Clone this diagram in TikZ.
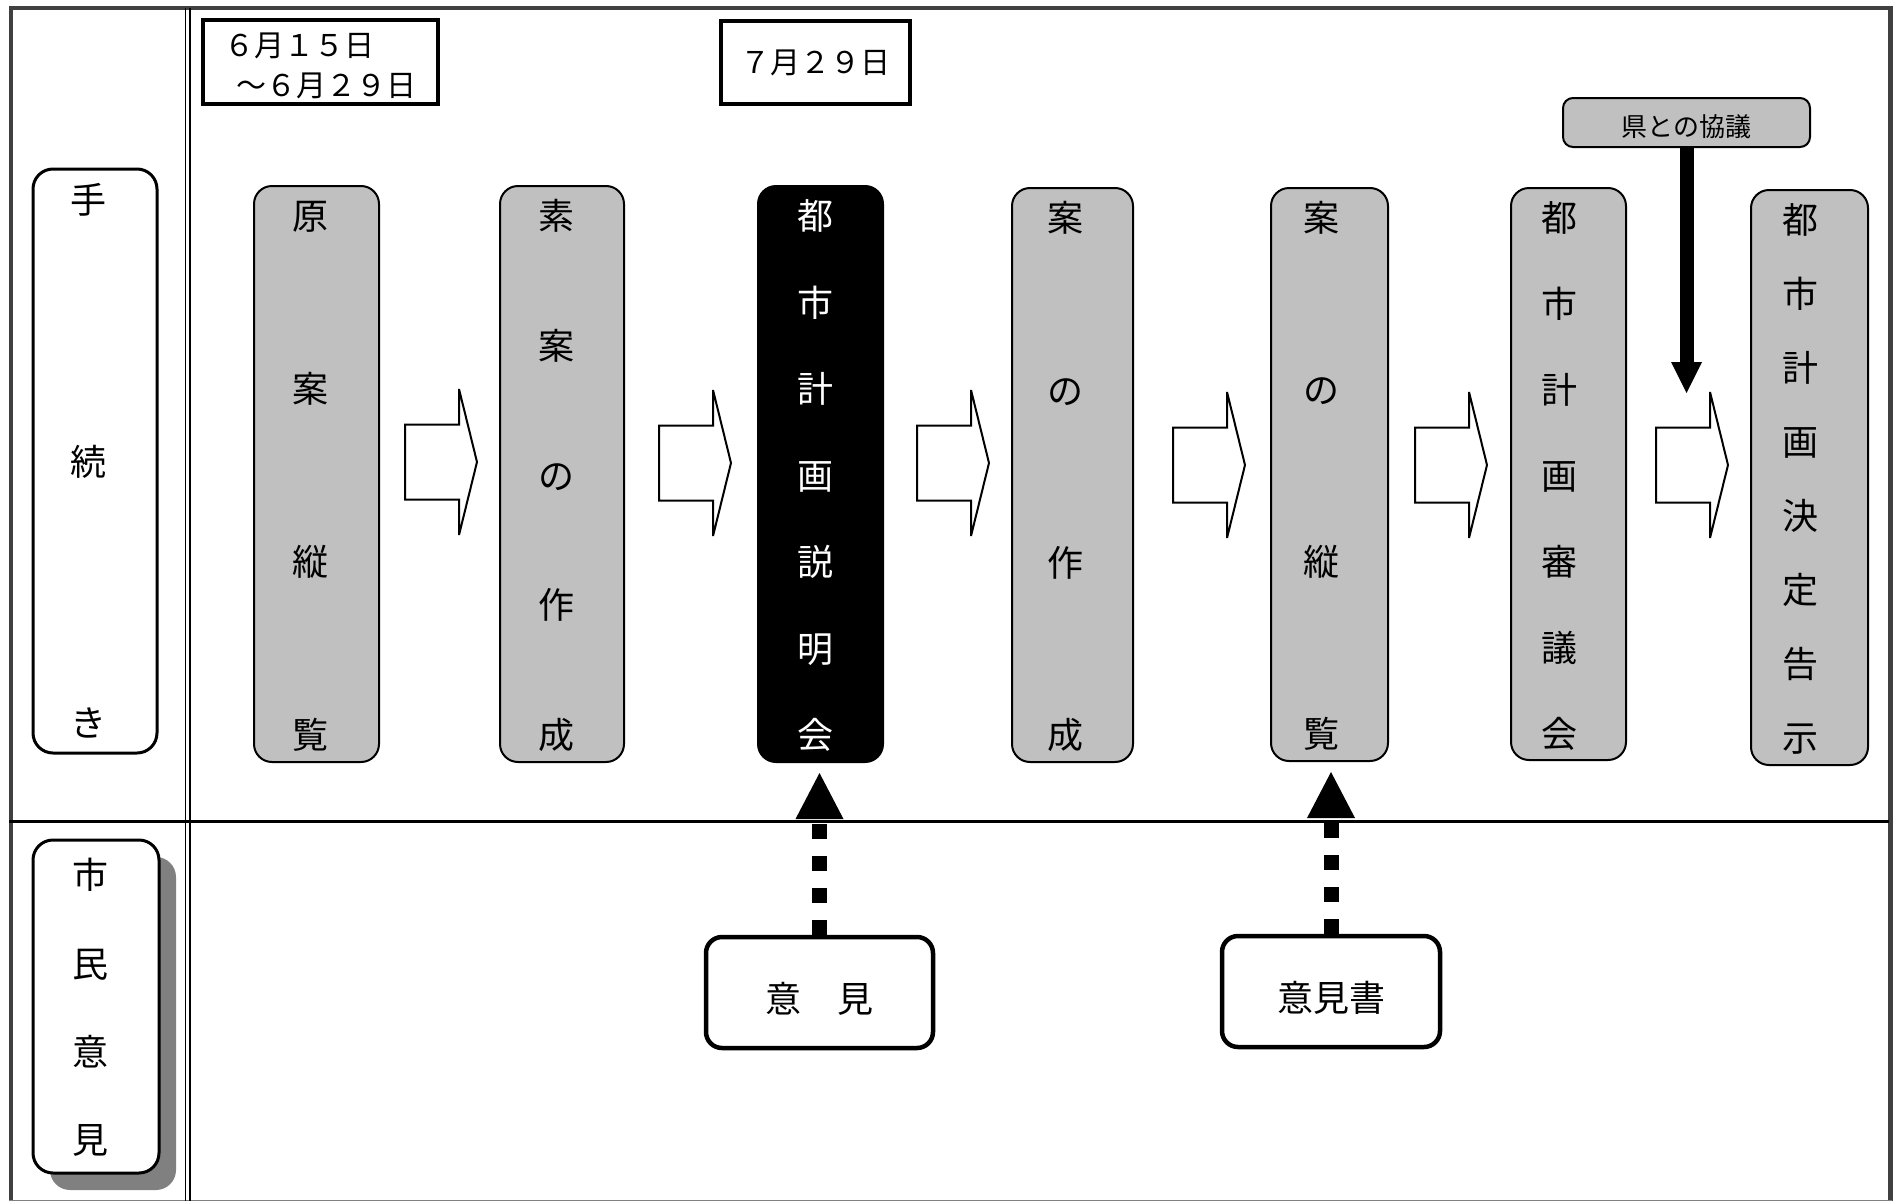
\documentclass[tikz,border=0pt]{standalone}
\usepackage{fontspec}
\setmainfont{Noto Sans CJK JP}
\usetikzlibrary{arrows.meta,shadows}
\definecolor{framegray}{RGB}{64,64,64}
\definecolor{boxgray}{RGB}{192,192,192}
\definecolor{shadowgray}{RGB}{128,128,128}
\newcommand\colchars[7][]{%
  \foreach \mych [count=\i] in {#7} {%
    \node[chr,#1] (#2-\i) at (#3,{#4+(\i-1)*(#5-#4)/(#6-1)}) {\mych};
  }%
}
\tikzset{
  procbox/.style={draw, line width=2pt, fill=boxgray, rounded corners=18pt, inner sep=0pt},
  blackbox/.style={procbox, fill=black},
  sidebox/.style={draw, line width=3pt, fill=white, rounded corners=20pt, inner sep=0pt},
  datebox/.style={draw, line width=4pt, fill=white, inner sep=0pt},
  kenbox/.style={draw, line width=2pt, fill=boxgray, rounded corners=10pt, inner sep=0pt,
    font=\fontsize{26pt}{26pt}\selectfont, text height=31.9pt, text depth=3.1pt},
  commentbox/.style={draw, line width=4.5pt, fill=white, rounded corners=16pt, inner sep=0pt,
    font=\fontsize{36pt}{36pt}\selectfont, text height=45pt, text depth=4.3pt},
  chr/.style={inner sep=0pt, font=\fontsize{36pt}{36pt}\selectfont, text height=31.7pt, text depth=4.3pt},
  datetext/.style={inner sep=0pt, font=\fontsize{30pt}{30pt}\selectfont, text height=26.4pt, text depth=3.6pt},
  fatdash/.style={line width=15pt, dash pattern=on 15pt off 17pt,
    -{Triangle[length=46pt,width=48pt,line width=0pt]}, shorten >=10pt},
  fatarrow/.style={line width=14pt, -{Triangle[length=31pt,width=31pt,line width=0pt]}},
  hollowarrow/.pic={\draw[line width=2pt, fill=white, miter limit=3] (0,-37.5) -- (54,-37.5) -- (54,-73) -- (72,0) -- (54,73) -- (54,37.5) -- (0,37.5) -- cycle;}
}
\begin{document}
\begin{tikzpicture}[x=1pt,y=-1pt]
\useasboundingbox (0,0) rectangle (1898,1202);
% frame
\draw[framegray, line width=4pt] (9,8) -- (1892,8);
\draw[framegray, line width=4pt] (10.5,6) -- (10.5,1201);
\draw[framegray, line width=4.5pt] (1890.5,6) -- (1890.5,1201);
\draw[gray, line width=1.5pt] (9,1200.5) -- (1892,1200.5);
\draw[line width=1.5pt] (185.5,8) -- (185.5,1201);
\draw[line width=1.5pt] (190,8) -- (190,1201);
\draw[line width=3pt] (9,821.5) -- (1889,821.5);
% side labels
\node[sidebox, minimum width=124pt, minimum height=584pt] (tz) at (95,461) {};
\colchars{tzc}{88}{200}{723}{3}{手,続,き}
\node[sidebox, minimum width=126pt, minimum height=333pt,
  drop shadow={shadow xshift=17pt, shadow yshift=-17pt, fill=shadowgray, opacity=1}] (sm) at (96,1006.5) {};
\colchars{smc}{90}{875}{1140}{4}{市,民,意,見}
% dates
\node[datebox, minimum width=235pt, minimum height=84pt] (d1) at (320.5,62) {};
\node[datetext, anchor=west] (d1a) at (224,45) {６月１５日};
\node[datetext, anchor=west] (d1b) at (236,85) {～６月２９日};
\node[datebox, datetext, minimum width=189pt, minimum height=83pt] (d2) at (815.5,62.5) {７月２９日};
% consultation
\node[kenbox, minimum width=247pt, minimum height=49pt] (ken) at (1686.5,122.5) {県との協議};
% process boxes
\node[procbox, minimum width=125pt, minimum height=576pt] (b1) at (316.5,474) {};
\colchars{b1c}{310}{216}{735}{4}{原,案,縦,覧}
\node[procbox, minimum width=124pt, minimum height=576pt] (b2) at (562,474) {};
\colchars{b2c}{556}{216}{735}{5}{素,案,の,作,成}
\node[blackbox, minimum width=125pt, minimum height=576pt] (b3) at (820.5,474) {};
\colchars[white]{b3c}{815}{216}{735}{7}{都,市,計,画,説,明,会}
\node[procbox, minimum width=121pt, minimum height=574pt] (b4) at (1072.5,475) {};
\colchars{b4c}{1065}{218}{735}{4}{案,の,作,成}
\node[procbox, minimum width=117pt, minimum height=573pt] (b5) at (1329.5,474.5) {};
\colchars{b5c}{1321}{218}{734}{4}{案,の,縦,覧}
\node[procbox, minimum width=115pt, minimum height=572pt] (b6) at (1568.5,474) {};
\colchars{b6c}{1559}{218}{734}{7}{都,市,計,画,審,議,会}
\node[procbox, minimum width=117pt, minimum height=575pt] (b7) at (1809.5,477.5) {};
\colchars{b7c}{1800}{220}{738}{8}{都,市,計,画,決,定,告,示}
% hollow arrows
\pic (a1) at (405,462) {hollowarrow};
\pic (a2) at (659,463) {hollowarrow};
\pic (a3) at (917,463) {hollowarrow};
\pic (a4) at (1173,465) {hollowarrow};
\pic (a5) at (1415,465) {hollowarrow};
\pic (a6) at (1656,465) {hollowarrow};
% citizen opinions
\node[commentbox, minimum width=227pt, minimum height=111pt] (iken) at (819.5,992.5) {意　見};
\node[commentbox, minimum width=218pt, minimum height=111pt] (ikensho) at (1331,991.5) {意見書};
\draw[fatdash] (iken.north) -- (iken.north |- b3.south);
\draw[fatdash] (ikensho.north) -- (ikensho.north |- b5.south);
% consultation arrow
\coordinate (kentip) at (1687,393);
\draw[fatarrow] (ken.south) -- (ken.south |- kentip);
\end{tikzpicture}
\end{document}
